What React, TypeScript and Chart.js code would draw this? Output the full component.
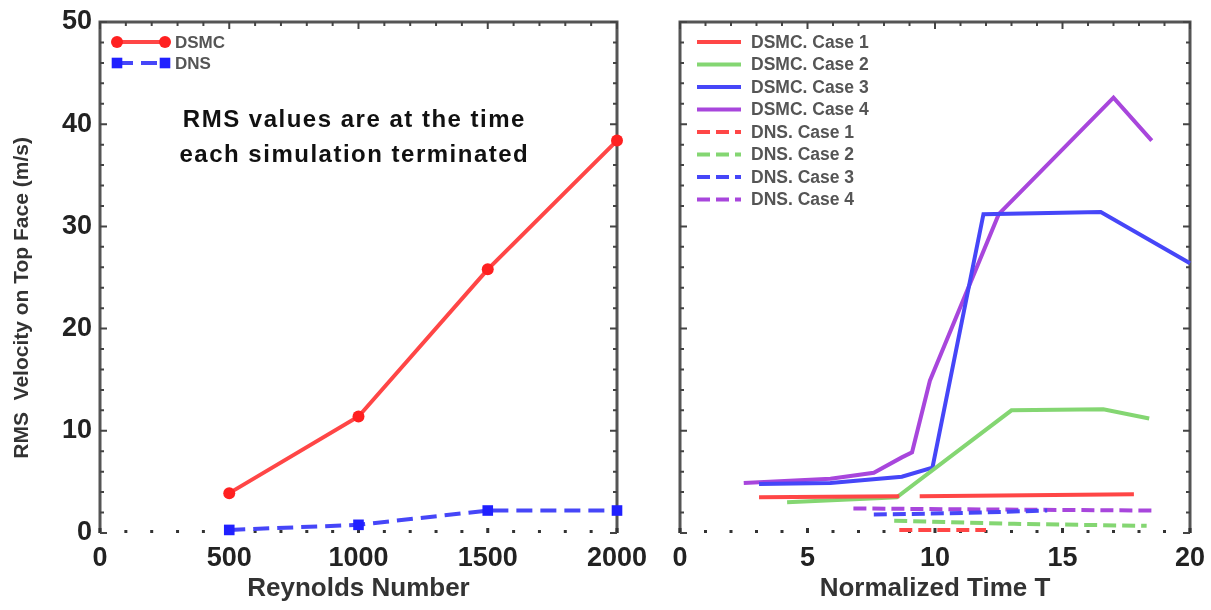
import React, { useEffect, useRef } from 'react';
import { Chart, registerables } from 'chart.js';
Chart.register(...registerables);

// ---------- Left panel data ----------
const reynolds = [500, 1000, 1500, 2000];
const dsmcRms = [3.9, 11.4, 25.8, 38.4];
const dnsRms = [0.3, 0.8, 2.2, 2.2];

// ---------- Right panel data (time T, RMS value) ----------
const dsmc1T = [3.1, 8.6, 9.0, 9.4, 17.8];
const dsmc1V = [3.5, 3.6, null, 3.6, 3.8];
const dsmc2T = [4.2, 7.7, 8.5, 13.0, 16.6, 18.4];
const dsmc2V = [3.0, 3.4, 3.5, 12.0, 12.1, 11.2];
const dsmc3T = [3.1, 5.9, 8.7, 9.9, 11.9, 16.5, 20.0];
const dsmc3V = [4.8, 4.9, 5.5, 6.4, 31.2, 31.4, 26.4];
const dsmc4T = [2.5, 5.9, 7.6, 8.7, 9.1, 9.8, 12.5, 17.0, 18.5];
const dsmc4V = [4.9, 5.3, 5.9, 7.4, 7.9, 14.9, 31.2, 42.6, 38.4];
const dns1T = [8.6, 12.0];
const dns1V = [0.3, 0.3];
const dns2T = [8.4, 13.1, 18.3];
const dns2V = [1.2, 0.9, 0.7];
const dns3T = [7.6, 11.8, 14.4];
const dns3V = [1.8, 2.0, 2.2];
const dns4T = [6.8, 12.0, 18.5];
const dns4V = [2.4, 2.3, 2.2];

const leftLabels = ['DSMC', 'DNS'];
const rightLabels = [
  'DSMC. Case 1', 'DSMC. Case 2', 'DSMC. Case 3', 'DSMC. Case 4',
  'DNS. Case 1', 'DNS. Case 2', 'DNS. Case 3', 'DNS. Case 4',
];
const noteLines = ['RMS values are at the time', 'each simulation terminated'];
const yTitle = 'RMS  Velocity on Top Face (m/s)';

const FONT = "'Liberation Sans', Arial, sans-serif";
const RED = '#ff4646';
const GREEN = '#84d672';
const BLUE = '#4646f8';
const PURPLE = '#a846dc';

const zip = (xs: number[], ys: (number | null)[]) => xs.map((x, i) => ({ x, y: ys[i] }));

const framePlugin = {
  id: 'frame',
  beforeDatasetsDraw(chart: any, _args: any, opts: any) {
    const { ctx, chartArea } = chart;
    const { left, right, top, bottom } = chartArea;
    const xs = chart.scales.x;
    const ys = chart.scales.y;
    ctx.save();
    ctx.strokeStyle = '#555';
    ctx.lineWidth = 3;
    ctx.beginPath();
    ctx.moveTo(left, bottom);
    ctx.lineTo(left, top);
    ctx.lineTo(right, top);
    ctx.lineTo(right, bottom);
    ctx.stroke();
    ctx.lineWidth = 2;
    ctx.strokeStyle = '#444';
    ctx.fillStyle = '#333';
    const nx = Math.round((xs.max - xs.min) / opts.xMinor);
    for (let i = 0; i <= nx; i++) {
      const v = xs.min + i * opts.xMinor;
      const p = xs.getPixelForValue(v);
      const major = i % opts.xMajorEvery === 0;
      ctx.beginPath();
      ctx.moveTo(p, top);
      ctx.lineTo(p, top + (major ? 7 : 4));
      ctx.stroke();
      ctx.fillRect(p - 1.5, bottom - (major ? 5 : 3), 3, major ? 5 : 3);
    }
    const ny = Math.round((ys.max - ys.min) / opts.yMinor);
    for (let i = 0; i <= ny; i++) {
      const v = ys.min + i * opts.yMinor;
      const p = ys.getPixelForValue(v);
      const major = i % opts.yMajorEvery === 0;
      const len = major ? 7 : 4;
      ctx.beginPath();
      ctx.moveTo(left, p);
      ctx.lineTo(left + len, p);
      ctx.moveTo(right, p);
      ctx.lineTo(right - len, p);
      ctx.stroke();
    }
    ctx.restore();
  },
};

const legendPlugin = {
  id: 'inLegend',
  afterDraw(chart: any, _args: any, opts: any) {
    const { ctx, chartArea } = chart;
    ctx.save();
    chart.data.datasets.forEach((ds: any, i: number) => {
      const x0 = chartArea.left + opts.dx;
      const x1 = x0 + opts.lineLen;
      const y = chartArea.top + opts.dy + i * opts.rowH;
      ctx.strokeStyle = ds.borderColor;
      ctx.lineWidth = ds.borderWidth;
      ctx.setLineDash(ds.borderDash || []);
      ctx.beginPath();
      ctx.moveTo(x0, y);
      ctx.lineTo(x1, y);
      ctx.stroke();
      ctx.setLineDash([]);
      if (ds.pointRadius > 0) {
        ctx.fillStyle = ds.pointBackgroundColor;
        [x0, x1].forEach((px) => {
          ctx.beginPath();
          if (ds.pointStyle === 'rect') {
            const s = ds.pointRadius * Math.SQRT1_2;
            ctx.rect(px - s, y - s, 2 * s, 2 * s);
          } else {
            ctx.arc(px, y, ds.pointRadius, 0, Math.PI * 2);
          }
          ctx.fill();
        });
      }
      ctx.fillStyle = '#555';
      ctx.font = opts.font;
      ctx.textBaseline = 'middle';
      ctx.textAlign = 'left';
      ctx.fillText(ds.label, x1 + opts.textGap, y + 1);
    });
    ctx.restore();
  },
};

const notePlugin = {
  id: 'note',
  afterDraw(chart: any, _args: any, opts: any) {
    const { ctx } = chart;
    ctx.save();
    if (opts && opts.lines) {
      const xs = chart.scales.x;
      const ys = chart.scales.y;
      ctx.fillStyle = '#111';
      ctx.font = opts.font;
      (ctx as any).letterSpacing = opts.spacing || '0px';
      ctx.textAlign = 'center';
      ctx.textBaseline = 'alphabetic';
      opts.lines.forEach((t: string, i: number) => {
        ctx.fillText(t, xs.getPixelForValue(opts.x), ys.getPixelForValue(opts.ys[i]));
      });
      (ctx as any).letterSpacing = '0px';
    }
    if (opts && opts.yTitle) {
      const ys = chart.scales.y;
      ctx.translate(opts.yTitleX, ys.getPixelForValue(opts.yTitleAt));
      ctx.rotate(-Math.PI / 2);
      ctx.fillStyle = '#333';
      ctx.font = opts.yTitleFont;
      ctx.textAlign = 'center';
      ctx.textBaseline = 'middle';
      ctx.fillText(opts.yTitle, 0, 0);
    }
    ctx.restore();
  },
};

const tickFont = { family: FONT, size: 27, weight: 'bold' as const };
const titleFont = { family: FONT, size: 26, weight: 'bold' as const };
const plainTick = (v: any) => String(v);

// canvases start 20px above the page so that the top label has room
const TOP_SHIFT = 20;

function LeftChart() {
  const ref = useRef<HTMLCanvasElement>(null);
  useEffect(() => {
    const chart = new Chart(ref.current!, {
      type: 'line',
      data: {
        datasets: [
          {
            label: leftLabels[0],
            data: zip(reynolds, dsmcRms),
            borderColor: RED,
            backgroundColor: RED,
            pointBackgroundColor: '#ff2020',
            pointBorderWidth: 0,
            pointRadius: 6,
            pointStyle: 'circle',
            borderWidth: 4,
            clip: false,
          } as any,
          {
            label: leftLabels[1],
            data: zip(reynolds, dnsRms),
            borderColor: BLUE,
            backgroundColor: BLUE,
            pointBackgroundColor: '#2020ff',
            pointBorderWidth: 0,
            pointRadius: 7.5,
            pointStyle: 'rect',
            borderWidth: 4,
            borderDash: [16, 8],
            clip: false,
          } as any,
        ],
      },
      options: {
        animation: false,
        responsive: false,
        maintainAspectRatio: false,
        layout: { padding: { top: 22 + TOP_SHIFT, right: 63, left: 0, bottom: 0 } },
        plugins: {
          legend: { display: false },
          tooltip: { enabled: false },
          frame: { xMinor: 100, xMajorEvery: 5, yMinor: 2, yMajorEvery: 5 },
          inLegend: { dx: 17, dy: 20, rowH: 21, lineLen: 48, textGap: 10, font: `bold 17px ${FONT}` },
          note: {
            lines: noteLines, x: 984, ys: [39.7, 36.3], font: `bold 24px ${FONT}`, spacing: '1.5px',
            yTitle, yTitleX: 22, yTitleAt: 23.0, yTitleFont: `bold 21px ${FONT}`,
          },
        } as any,
        scales: {
          x: {
            type: 'linear',
            min: 0,
            max: 2000,
            afterFit: (s: any) => { s.height = 77; },
            ticks: { stepSize: 500, font: tickFont, color: '#222', padding: 9, maxRotation: 0, callback: plainTick },
            grid: { display: false, drawTicks: false },
            border: { display: false },
            title: { display: true, text: 'Reynolds Number', font: titleFont, color: '#333', padding: { top: 2, bottom: 6 } },
          },
          y: {
            type: 'linear',
            min: 0,
            max: 50,
            afterFit: (s: any) => { s.width = 100; },
            ticks: { stepSize: 10, font: tickFont, color: '#222', padding: 8, callback: plainTick },
            grid: { display: false, drawTicks: false },
            border: { display: false },
          },
        },
      },
      plugins: [framePlugin, legendPlugin, notePlugin],
    });
    return () => chart.destroy();
  }, []);
  return (
    <canvas
      ref={ref}
      width={680}
      height={610 + TOP_SHIFT}
      style={{ position: 'absolute', left: 0, top: -TOP_SHIFT, width: 680, height: 610 + TOP_SHIFT }}
    />
  );
}

function RightChart() {
  const ref = useRef<HTMLCanvasElement>(null);
  useEffect(() => {
    const mk = (label: string, data: any[], color: string, dashed: boolean) => ({
      label,
      data,
      borderColor: color,
      backgroundColor: color,
      borderWidth: 4,
      pointRadius: 0,
      borderDash: dashed ? [13, 6] : [],
      spanGaps: false,
      clip: false,
    });
    const chart = new Chart(ref.current!, {
      type: 'line',
      data: {
        datasets: [
          mk(rightLabels[0], zip(dsmc1T, dsmc1V), RED, false),
          mk(rightLabels[1], zip(dsmc2T, dsmc2V), GREEN, false),
          mk(rightLabels[2], zip(dsmc3T, dsmc3V), BLUE, false),
          mk(rightLabels[3], zip(dsmc4T, dsmc4V), PURPLE, false),
          mk(rightLabels[4], zip(dns1T, dns1V), RED, true),
          mk(rightLabels[5], zip(dns2T, dns2V), GREEN, true),
          mk(rightLabels[6], zip(dns3T, dns3V), BLUE, true),
          mk(rightLabels[7], zip(dns4T, dns4V), PURPLE, true),
        ] as any,
      },
      options: {
        animation: false,
        responsive: false,
        maintainAspectRatio: false,
        layout: { padding: { top: 22 + TOP_SHIFT, right: 60, left: 0, bottom: 0 } },
        plugins: {
          legend: { display: false },
          tooltip: { enabled: false },
          frame: { xMinor: 1, xMajorEvery: 5, yMinor: 2, yMajorEvery: 5 },
          inLegend: { dx: 17, dy: 20, rowH: 22.5, lineLen: 44, textGap: 10, font: `bold 17.5px ${FONT}` },
        } as any,
        scales: {
          x: {
            type: 'linear',
            min: 0,
            max: 20,
            afterFit: (s: any) => { s.height = 77; },
            ticks: { stepSize: 5, font: tickFont, color: '#222', padding: 9, maxRotation: 0, callback: plainTick },
            grid: { display: false, drawTicks: false },
            border: { display: false },
            title: { display: true, text: 'Normalized Time T', font: titleFont, color: '#333', padding: { top: 2, bottom: 6 } },
          },
          y: {
            type: 'linear',
            min: 0,
            max: 50,
            afterFit: (s: any) => { s.width = 30; },
            ticks: { display: false, stepSize: 10 },
            grid: { display: false, drawTicks: false },
            border: { display: false },
          },
        },
      },
      plugins: [framePlugin, legendPlugin],
    });
    return () => chart.destroy();
  }, []);
  return (
    <canvas
      ref={ref}
      width={600}
      height={610 + TOP_SHIFT}
      style={{ position: 'absolute', left: 650, top: -TOP_SHIFT, width: 600, height: 610 + TOP_SHIFT }}
    />
  );
}

export default function App() {
  return (
    <div style={{ position: 'fixed', left: 0, top: 0, width: 1211, height: 610, background: '#fff', overflow: 'hidden' }}>
      <LeftChart />
      <RightChart />
    </div>
  );
}
